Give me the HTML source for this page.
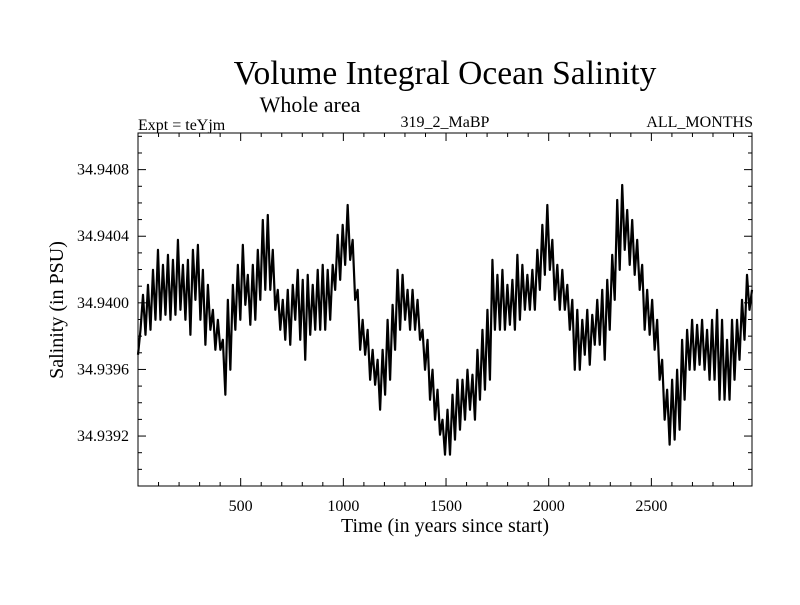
<!DOCTYPE html>
<html><head><meta charset="utf-8"><style>
body{margin:0;background:#fff;}
svg text{font-family:"Liberation Serif",serif;fill:#000;}
</style></head><body>
<svg id="chart" width="800" height="600" xmlns="http://www.w3.org/2000/svg">
<text x="445" y="84" font-size="33.5" text-anchor="middle">Volume Integral Ocean Salinity</text>
<text x="310" y="112" font-size="22" text-anchor="middle">Whole area</text>
<text x="138" y="130" font-size="16">Expt = teYjm</text>
<text x="445" y="127" font-size="16" text-anchor="middle">319_2_MaBP</text>
<text x="753" y="127" font-size="16" text-anchor="end">ALL_MONTHS</text>
<text x="445" y="532" font-size="20" text-anchor="middle">Time (in years since start)</text>
<text x="0" y="0" font-size="20" text-anchor="middle" transform="translate(63,310) rotate(-90)">Salinity (in PSU)</text>
<g id="axes"></g>
<path id="series" fill="none" stroke="#000" stroke-width="2.2" stroke-linejoin="round"></path>
<rect x="138" y="133" width="614" height="353" fill="none" stroke="#000" stroke-width="1"></rect>
</svg>
<script>
const baseSalinity = 34.9400;
const startYear = 0;
const endYear = 2990;
// salinity anomaly in 1e-6 PSU relative to baseSalinity, evenly spaced in time
const anomaly = [-312,-162,48,-192,108,-162,198,-102,318,-102,228,-72,288,-102,258,-72,378,-42,228,-102,258,-192,318,18,348,-102,198,-252,108,-162,-42,-282,-102,-282,-222,-552,18,-402,108,-162,228,-102,348,-12,168,-132,228,-102,318,18,498,78,528,78,318,-42,78,-162,18,-222,78,-252,108,-102,198,-222,138,-342,168,-192,108,-162,198,-162,228,-162,198,-102,228,78,408,138,468,228,588,258,378,18,78,-282,-102,-312,-162,-462,-282,-492,-342,-642,-282,-552,-102,-462,-12,-282,198,-162,168,-102,78,-162,78,-162,18,-222,-162,-402,-222,-582,-402,-702,-522,-792,-702,-912,-642,-912,-552,-822,-462,-762,-462,-702,-402,-642,-432,-702,-282,-582,-162,-522,-42,-462,258,-162,168,-162,198,-162,108,-132,138,-162,288,-102,228,-42,168,-42,198,-42,318,78,468,168,588,198,378,18,228,-42,198,-42,108,-162,18,-402,-42,-402,-102,-312,-42,-372,-72,-252,18,-252,78,-342,138,-162,288,18,618,198,708,318,558,228,498,168,378,78,228,-162,78,-192,18,-282,-102,-462,-342,-702,-522,-852,-462,-822,-402,-762,-222,-582,-162,-402,-102,-402,-132,-372,-102,-402,-162,-462,-102,-462,-42,-582,-102,-582,-222,-582,-102,-462,-102,-342,18,-222,168,-42,78];
const xTickValues = [500,1000,1500,2000,2500];
const xTickLabels = ["500","1000","1500","2000","2500"];
const yTickValues = [34.9392,34.9396,34.9400,34.9404,34.9408];
const yTickLabels = ["34.9392","34.9396","34.9400","34.9404","34.9408"];

const L=138,R=752,T=133,B=486;
const xMin=startYear,xMax=endYear,yMin=34.93890,yMax=34.94102;
const xs=v=>L+(v-xMin)/(xMax-xMin)*(R-L);
const ys=v=>B-(v-yMin)/(yMax-yMin)*(B-T);
const NS="http://www.w3.org/2000/svg";
const axes=document.getElementById('axes');
function line(x1,y1,x2,y2,name){
  const l=document.createElementNS(NS,'line');
  l.setAttribute('x1',x1);l.setAttribute('y1',y1);l.setAttribute('x2',x2);l.setAttribute('y2',y2);
  l.setAttribute('stroke','#000');l.setAttribute('stroke-width','1');
  
  
  axes.appendChild(l);
}
function text(x,y,s,anchor,name){
  const t=document.createElementNS(NS,'text');
  t.setAttribute('x',x);t.setAttribute('y',y);t.setAttribute('font-size','16');t.setAttribute('text-anchor',anchor);
  t.textContent=s;
  
  
  axes.appendChild(t);
}
for(let v=100;v<xMax;v+=100){
  const x=xs(v), major=v%500===0, len=major?8:4;
  line(x,B,x,B-len,'x-tick');
  line(x,T,x,T+len,'x-tick-top');
}
xTickValues.forEach((v,i)=>text(xs(v),511,xTickLabels[i],'middle','x-tick-label'));
for(let k=0;k<=21;k++){
  const v=34.9389+k*0.0001; if(v>yMax) break;
  const y=ys(v), major=Math.round(k-3)%4===0, len=major?8:4;
  line(L,y,L+len,y,'y-tick');
  line(R,y,R-len,y,'y-tick-right');
}
yTickValues.forEach((v,i)=>text(129,ys(v)+5,yTickLabels[i],'end','y-tick-label'));
let d='';
const n=anomaly.length;
anomaly.forEach((a,i)=>{
  const yr=startYear+i*(endYear-startYear)/(n-1);
  d+=(i?'L':'M')+xs(yr).toFixed(2)+','+ys(baseSalinity+a*1e-6).toFixed(2);
});
document.getElementById('series').setAttribute('d',d);
</script>
</body></html>
